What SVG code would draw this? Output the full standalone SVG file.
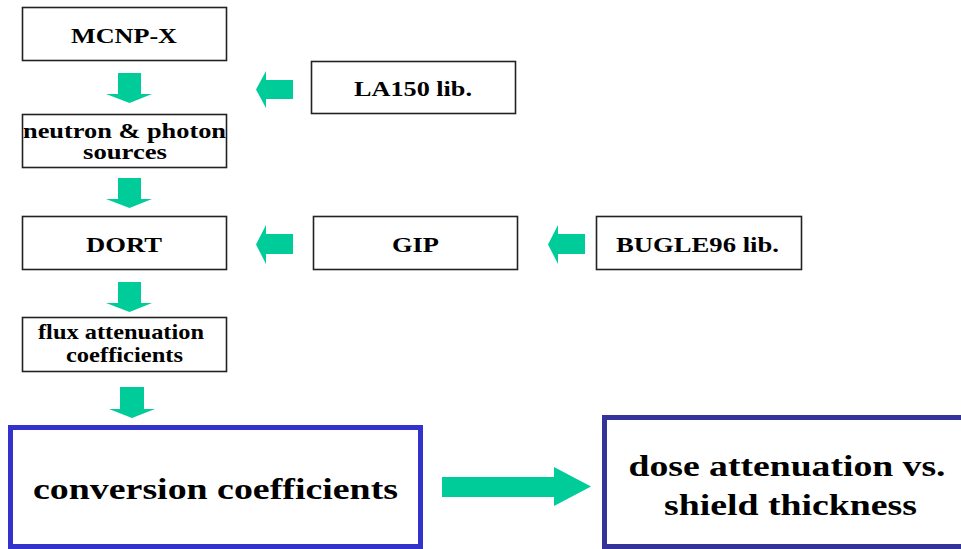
<svg xmlns="http://www.w3.org/2000/svg" width="961" height="549" viewBox="0 0 961 549">
<style>
.box{fill:#fff;stroke:#222;stroke-width:1.6}
.big1{fill:#fff;stroke:#3333CC;stroke-width:5}
.big2{fill:#fff;stroke:#33339A;stroke-width:5}
.arr{fill:#00CC99}
text{font-family:"Liberation Serif","Times New Roman",serif;font-weight:bold;fill:#000;text-anchor:middle}
.s{font-size:21px}
.l{font-size:29px}
</style>
<rect width="961" height="549" fill="#fff"/>
<g id="connectors">
<polygon class="arr" points="118,73 141,73 141,94 152,94 129.5,103 106,94 118,94"/>
<polygon class="arr" points="118,178 141,178 141,199 152,199 129.5,208 106,199 118,199"/>
<polygon class="arr" points="118,282 141,282 141,303 152,303 129.5,312 106,303 118,303"/>
<polygon class="arr" points="120,387 144,387 144,409 155,409 132,418 109,409 120,409"/>
<polygon class="arr" points="293,80 266,80 266,71 256,89.5 266,108 266,99 293,99"/>
<polygon class="arr" points="293,234 266,234 266,225 256,244.5 266,264 266,254 293,254"/>
<polygon class="arr" points="585,234 558,234 558,225 548,244.5 558,264 558,254 585,254"/>
<polygon class="arr" points="442,477 554,477 554,467 591,486.5 554,506 554,497 442,497"/>
</g>
<g id="mcnpx">
<rect class="box" x="22.5" y="7.5" width="204" height="53"/>
<text class="s" x="124" y="43" font-size="22" textLength="106" lengthAdjust="spacingAndGlyphs">MCNP-X</text>
</g>
<g id="la150">
<rect class="box" x="311.5" y="61.5" width="204" height="52"/>
<text class="s" x="413" y="96" textLength="118" lengthAdjust="spacingAndGlyphs">LA150 lib.</text>
</g>
<g id="sources">
<rect class="box" x="22.5" y="114.5" width="204" height="53"/>
<text class="s" x="124.5" y="138" textLength="203" lengthAdjust="spacingAndGlyphs">neutron &amp; photon</text>
<text class="s" x="125" y="159" textLength="84" lengthAdjust="spacingAndGlyphs">sources</text>
</g>
<g id="dort">
<rect class="box" x="22.5" y="216.5" width="204" height="53"/>
<text class="s" x="124" y="252" font-size="22" textLength="76" lengthAdjust="spacingAndGlyphs">DORT</text>
</g>
<g id="gip">
<rect class="box" x="313.5" y="216.5" width="204" height="53"/>
<text class="s" x="415.5" y="252" font-size="22" textLength="47" lengthAdjust="spacingAndGlyphs">GIP</text>
</g>
<g id="bugle">
<rect class="box" x="596.5" y="216.5" width="205" height="53"/>
<text class="s" x="697.5" y="252" textLength="163" lengthAdjust="spacingAndGlyphs">BUGLE96 lib.</text>
</g>
<g id="flux">
<rect class="box" x="22.5" y="317.5" width="204" height="54"/>
<text class="s" x="121" y="339" textLength="166" lengthAdjust="spacingAndGlyphs">flux attenuation</text>
<text class="s" x="124.5" y="362" textLength="117" lengthAdjust="spacingAndGlyphs">coefficients</text>
</g>
<g id="conversion">
<rect class="big1" x="10.5" y="427.5" width="410" height="119"/>
<text class="l" x="215.5" y="499" textLength="365" lengthAdjust="spacingAndGlyphs">conversion coefficients</text>
</g>
<g id="dose">
<rect class="big2" x="604.5" y="417.5" width="380" height="129"/>
<text class="l" x="787" y="476" textLength="317" lengthAdjust="spacingAndGlyphs">dose attenuation vs.</text>
<text class="l" x="790.5" y="515" textLength="253" lengthAdjust="spacingAndGlyphs">shield thickness</text>
</g>
</svg>
